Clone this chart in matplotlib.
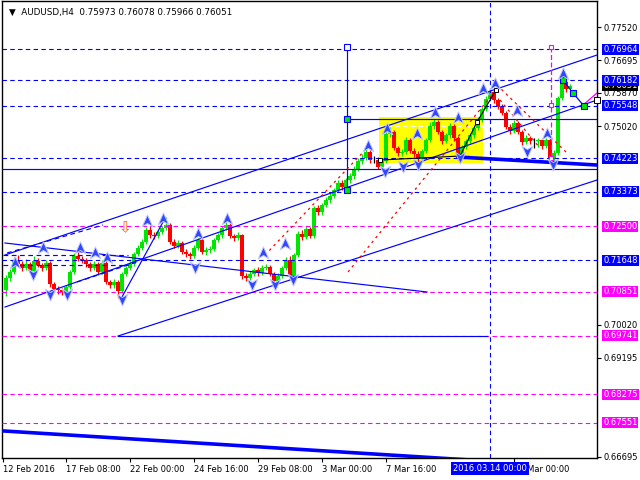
import numpy as np
import matplotlib.pyplot as plt
from matplotlib.path import Path
from matplotlib import transforms
from matplotlib.patches import Rectangle

plt.rcParams['font.family'] = 'DejaVu Sans'

# ---- AUDUSD H4 candles (bar index 0..141) ----
first_open = 0.7090
closes = [
    0.7120, 0.7135, 0.7165, 0.7155, 0.7145, 0.7155, 0.7138, 0.7163, 0.7153, 0.7145,
    0.7158, 0.7105, 0.7092, 0.7090, 0.7085, 0.7097, 0.7135, 0.7175, 0.7168, 0.7165,
    0.7155, 0.7145, 0.7155, 0.7135, 0.7158, 0.7110, 0.7102, 0.7110, 0.7087, 0.7130,
    0.7145, 0.7155, 0.7180, 0.7196, 0.7211, 0.7241, 0.7228, 0.7226, 0.7236, 0.7246,
    0.7254, 0.7211, 0.7201, 0.7208, 0.7186, 0.7180, 0.7175, 0.7196, 0.7216, 0.7186,
    0.7191, 0.7193, 0.7216, 0.7228, 0.7246, 0.7254, 0.7226, 0.7221, 0.7228, 0.7125,
    0.7120, 0.7130, 0.7140, 0.7133, 0.7145, 0.7148, 0.7130, 0.7112, 0.7125, 0.7145,
    0.7165, 0.7125, 0.7178, 0.7231, 0.7223, 0.7244, 0.7226, 0.7296, 0.7286, 0.7304,
    0.7317, 0.7327, 0.7342, 0.7360, 0.7349, 0.7367, 0.7377, 0.7395, 0.7415, 0.7423,
    0.7438, 0.7417, 0.7417, 0.7400, 0.7415, 0.7483, 0.7488, 0.7448, 0.7435, 0.7438,
    0.7468, 0.7440, 0.7433, 0.7420, 0.7440, 0.7468, 0.7503, 0.7513, 0.7488, 0.7465,
    0.7480, 0.7503, 0.7473, 0.7428, 0.7450, 0.7465, 0.7480, 0.7498, 0.7518, 0.7546,
    0.7571, 0.7589, 0.7569, 0.7551, 0.7536, 0.7501, 0.7491, 0.7511, 0.7488, 0.7463,
    0.7473, 0.7465, 0.7465, 0.7468, 0.7453, 0.7468, 0.7423, 0.7435, 0.7574, 0.7614,
    0.75973, 0.76051,
]
highs = [
    0.7128, 0.7142, 0.7172, 0.7178, 0.7162, 0.7168, 0.7160, 0.7176, 0.7170, 0.7158,
    0.7165, 0.7162, 0.7110, 0.7100, 0.7096, 0.7102, 0.7140, 0.7182, 0.7185, 0.7176,
    0.7170, 0.7160, 0.7162, 0.7160, 0.7165, 0.7162, 0.7116, 0.7118, 0.7115, 0.7135,
    0.7150, 0.7162, 0.7186, 0.7202, 0.7218, 0.7248, 0.7250, 0.7236, 0.7242, 0.7252,
    0.7275, 0.7258, 0.7218, 0.7215, 0.7212, 0.7192, 0.7186, 0.7202, 0.7222, 0.7220,
    0.7198, 0.7200, 0.7222, 0.7234, 0.7252, 0.7262, 0.7258, 0.7232, 0.7235, 0.7232,
    0.7132, 0.7138, 0.7146, 0.7148, 0.7152, 0.7156, 0.7152, 0.7135, 0.7132, 0.7150,
    0.7172, 0.7175, 0.7184, 0.7238, 0.7242, 0.7250, 0.7248, 0.7302, 0.7305, 0.7310,
    0.7324, 0.7334, 0.7348, 0.7366, 0.7368, 0.7373, 0.7384, 0.7402, 0.7422, 0.7432,
    0.7446, 0.7442, 0.7428, 0.7424, 0.7422, 0.7490, 0.7500, 0.7494, 0.7454, 0.7446,
    0.7475, 0.7472, 0.7448, 0.7440, 0.7446, 0.7474, 0.7512, 0.7520, 0.7518, 0.7492,
    0.7486, 0.7510, 0.7508, 0.7478, 0.7456, 0.7470, 0.7486, 0.7504, 0.7525, 0.7552,
    0.7578, 0.7600, 0.7594, 0.7575, 0.7558, 0.7540, 0.7508, 0.7518, 0.7516, 0.7494,
    0.7480, 0.7478, 0.7472, 0.7474, 0.7472, 0.7474, 0.7472, 0.7442, 0.7580, 0.7620,
    0.7618, 0.76078,
]
lows = [
    0.7075, 0.7112, 0.7130, 0.7150, 0.7138, 0.7140, 0.7132, 0.7135, 0.7148, 0.7138,
    0.7140, 0.7098, 0.7085, 0.7080, 0.7076, 0.7080, 0.7092, 0.7130, 0.7162, 0.7158,
    0.7148, 0.7138, 0.7140, 0.7128, 0.7130, 0.7105, 0.7095, 0.7096, 0.7070, 0.7082,
    0.7125, 0.7140, 0.7150, 0.7175, 0.7190, 0.7206, 0.7222, 0.7218, 0.7220, 0.7230,
    0.7240, 0.7205, 0.7195, 0.7196, 0.7180, 0.7172, 0.7168, 0.7170, 0.7190, 0.7180,
    0.7178, 0.7184, 0.7188, 0.7210, 0.7222, 0.7240, 0.7220, 0.7214, 0.7216, 0.7118,
    0.7112, 0.7115, 0.7124, 0.7126, 0.7128, 0.7140, 0.7124, 0.7105, 0.7106, 0.7120,
    0.7140, 0.7118, 0.7120, 0.7172, 0.7216, 0.7218, 0.7220, 0.7220, 0.7280, 0.7280,
    0.7298, 0.7310, 0.7322, 0.7336, 0.7342, 0.7344, 0.7360, 0.7370, 0.7390, 0.7408,
    0.7418, 0.7410, 0.7410, 0.7394, 0.7396, 0.7410, 0.7476, 0.7442, 0.7428, 0.7428,
    0.7432, 0.7434, 0.7426, 0.7410, 0.7415, 0.7436, 0.7462, 0.7496, 0.7482, 0.7458,
    0.7460, 0.7474, 0.7466, 0.7418, 0.7422, 0.7444, 0.7460, 0.7474, 0.7492, 0.7512,
    0.7540, 0.7565, 0.7562, 0.7545, 0.7530, 0.7495, 0.7484, 0.7486, 0.7482, 0.7456,
    0.7458, 0.7458, 0.7448, 0.7450, 0.7446, 0.7448, 0.7414, 0.7418, 0.7430, 0.7568,
    0.7590, 0.75966,
]

title = "\u25bc  AUDUSD,H4  0.75973 0.76078 0.75966 0.76051"

# horizontal levels
blue_levels = [0.76964, 0.76182, 0.75548, 0.74223, 0.73373, 0.71648]
pink_levels = [0.72500, 0.70851, 0.69741, 0.68275, 0.67551]
axis_ticks = [0.77520, 0.76695, 0.75870, 0.75020, 0.70020, 0.69195, 0.66695]
last_price = 0.76051

# time axis
date_ticks = [-0.75, 15, 31, 47, 63, 79, 95, 127]
date_labels = ['12 Feb 2016', '17 Feb 08:00', '22 Feb 00:00', '24 Feb 16:00',
               '29 Feb 08:00', '3 Mar 00:00', '7 Mar 16:00', '15 Mar 00:00']
cursor_bar = 121
cursor_label = '2016.03.14 00:00'

# trend lines (bar, price) pairs
channel_lines = [
    [(-0.25, 0.71780), (147.75, 0.76821)],
    [(-0.25, 0.70468), (147.75, 0.75687)],
    [(28, 0.69737), (147.75, 0.73670)],
    [(-0.25, 0.72082), (105.25, 0.70847)],
    [(29, 0.70721), (39.25, 0.72611)],
    [(-1, 0.73947), (147.75, 0.73947)],
    [(85.25, 0.75208), (147.75, 0.75208)],
    [(28, 0.69737), (120.25, 0.69737)],
    [(85.25, 0.73418), (85.25, 0.77023)],
]
dashed_lines = [
    [(0.25, 0.71830), (24.25, 0.72536)],
    [(17.75, 0.71099), (32.75, 0.71603)],
    [(-0.75, 0.71780), (30.5, 0.71780)],
    [(-0.75, 0.71527), (30.5, 0.71527)],
]
thick_lines = [
    [(113, 0.74250), (147.75, 0.74048)],
    [(-0.5, 0.67343), (116, 0.66612)],
]
red_dotted = [
    [(85.5, 0.71351), (122.5, 0.75939)],
    [(64.75, 0.71779), (91, 0.74553)],
    [(122.75, 0.76065), (140.25, 0.74351)],
    [(123.5, 0.75687), (133.5, 0.74477)],
]
wave_bars = [93.5, 113.5, 117.75, 122.5]
wave_prices = [0.74174, 0.74275, 0.75132, 0.75939]
proj_bars = [139.25, 141.75, 144.5]
proj_prices = [0.76191, 0.75864, 0.75536]
pink_proj = [(144.25, 0.75561), (147.75, 0.75864)]
end_square = (147.75, 0.75687)
pink_vert_bar = 136.25
pink_vert_prices = [0.77023, 0.75561, 0.74225]
blue_vert_bar = 85.25
blue_vert_prices = [0.77023, 0.75208, 0.73418]
box_bars = (93.25, 119.25)
box_prices = (0.74099, 0.75258)
box_mid = 0.75032

# fractal arrows
up_bars = [2.25, 9.25, 18.5, 22.25, 25.25, 35.25, 39.25, 48, 55.25, 64.25, 69.75,
           90.5, 95.25, 102.75, 107.25, 113, 119.25, 122.25, 127.75, 135.25, 139.25]
up_prices = [0.71578, 0.71956, 0.71956, 0.71830, 0.71704, 0.72637, 0.72687, 0.72309,
             0.72687, 0.71830, 0.72057, 0.74527, 0.74956, 0.74830, 0.75359, 0.75233,
             0.75964, 0.76090, 0.75410, 0.74830, 0.76342]
dn_bars = [6.75, 11, 15.25, 29, 47.25, 61.5, 67.25, 71.75, 94.75, 99.25, 103,
           113.5, 130.25, 136.75]
dn_prices = [0.71300, 0.70796, 0.70796, 0.70670, 0.71477, 0.71048, 0.71048, 0.71175,
             0.73897, 0.74023, 0.74074, 0.74250, 0.74401, 0.74074]

BLUE = '#0000ff'
PINK = '#ff00ff'
GREEN = '#00e600'
RED = '#ff0000'

fig = plt.figure(figsize=(6.4, 4.8), dpi=100)
ax = fig.add_axes([2 / 640, 22 / 480, 595 / 640, 457 / 480])
ax.set_xlim(-1, 147.75)
ax.set_ylim(0.66662, 0.78183)

# yellow rectangle behind candles
ax.add_patch(Rectangle((box_bars[0], box_prices[0]), box_bars[1] - box_bars[0],
                       box_prices[1] - box_prices[0], fc='#ffff00', ec='none', zorder=1))
ax.plot(box_bars, [box_mid, box_mid], color='white', lw=0.8, ls=(0, (4, 3)), zorder=1.5)

# candles
idx = np.arange(len(closes))
c = np.array(closes)
o = np.array([first_open] + closes[:-1])
h = np.array(highs)
l = np.array(lows)
col = np.where(c > o, GREEN, np.where(c < o, RED, 'black'))
ax.vlines(idx, l, h, colors=col, lw=0.9, zorder=3)
flat = np.abs(c - o) < 0.00008
ax.bar(idx, np.where(flat, 0.00008, c - o), bottom=np.where(flat, o - 0.00004, o),
       width=0.78, color=col, lw=0, zorder=3)

# levels
for p in blue_levels:
    ax.axhline(p, color=BLUE, lw=0.8, ls=(0, (4, 3)), zorder=4)
for p in pink_levels:
    ax.axhline(p, color=PINK, lw=0.8, ls=(0, (4, 3)), zorder=4)
ax.axvline(cursor_bar, color=BLUE, lw=0.8, ls=(0, (4, 3)), zorder=4)

for (a, b) in channel_lines:
    ax.plot([a[0], b[0]], [a[1], b[1]], color=BLUE, lw=0.85, zorder=4)
for (a, b) in dashed_lines:
    ax.plot([a[0], b[0]], [a[1], b[1]], color=BLUE, lw=0.85, ls=(0, (4, 3)), zorder=4)
for (a, b) in thick_lines:
    ax.plot([a[0], b[0]], [a[1], b[1]], color=BLUE, lw=2.6, zorder=4)
for (a, b) in red_dotted:
    ax.plot([a[0], b[0]], [a[1], b[1]], color=RED, lw=0.9, ls=(0, (2, 3)), zorder=4)

ax.plot(wave_bars, wave_prices, color='black', lw=0.8, zorder=4)
ax.plot(wave_bars, wave_prices, ls='none', marker='s', ms=3.5, mfc='white', mec='black',
        mew=0.7, zorder=5)
ax.plot(proj_bars, proj_prices, color=BLUE, lw=0.9, marker='s', ms=4, mfc='#00e600',
        mec=BLUE, mew=0.8, zorder=5)
ax.plot([pink_proj[0][0], pink_proj[1][0]], [pink_proj[0][1], pink_proj[1][1]],
        color=PINK, lw=0.9, zorder=4)
ax.plot([end_square[0]], [end_square[1]], ls='none', marker='s', ms=4, mfc='white',
        mec='black', mew=0.7, zorder=5, clip_on=False)
ax.plot([pink_vert_bar] * 2, [pink_vert_prices[0], pink_vert_prices[-1]], color=PINK,
        lw=0.9, ls=(0, (4, 2)), zorder=4)
ax.plot([pink_vert_bar] * 3, pink_vert_prices, ls='none', marker='s', ms=3.5,
        mfc='white', mec=PINK, mew=0.8, zorder=5)
ax.plot([blue_vert_bar], [blue_vert_prices[0]], ls='none', marker='s', ms=4,
        mfc='white', mec=BLUE, mew=0.8, zorder=5)
ax.plot([blue_vert_bar] * 2, blue_vert_prices[1:], ls='none', marker='s', ms=4,
        mfc='#00e600', mec=BLUE, mew=0.8, zorder=5)

# fractal arrow markers
up_path = Path([(0, 1), (0.8, -0.8), (0, -0.3), (-0.8, -0.8), (0, 1)],
               [Path.MOVETO, Path.LINETO, Path.LINETO, Path.LINETO, Path.CLOSEPOLY])
dn_path = Path([(0, -1), (0.8, 0.8), (0, 0.3), (-0.8, 0.8), (0, -1)],
               [Path.MOVETO, Path.LINETO, Path.LINETO, Path.LINETO, Path.CLOSEPOLY])
ax.plot(up_bars, up_prices, ls='none', marker=up_path, ms=9.5, mfc='#3046ff',
        mec='#c4caff', mew=0.7, zorder=6)
ax.plot(dn_bars, dn_prices, ls='none', marker=dn_path, ms=9.5, mfc='#3046ff',
        mec='#c4caff', mew=0.7, zorder=6)
ax.text(29.75, 0.72460, '\u21e9', color='#ff5a1e', fontsize=11, ha='center', va='center',
        zorder=6)

# axes styling
for s in ax.spines.values():
    s.set_color('black')
    s.set_linewidth(1.0)
ax.yaxis.tick_right()
ax.set_yticks(axis_ticks)
ax.set_yticklabels(['%.5f' % t for t in axis_ticks])
ax.tick_params(axis='y', labelsize=6, length=3, pad=2, width=0.8)
ax.set_xticks(date_ticks)
ax.set_xticklabels(date_labels)
ax.tick_params(axis='x', labelsize=6, length=3, pad=2, width=0.8)
for lbl in ax.get_xticklabels():
    lbl.set_ha('left')

ax.text(0.012, 0.985, title, transform=ax.transAxes, fontsize=6.3, va='top', ha='left')

# price tags on the right (current price tag sits underneath the level tags)
tag_tr = transforms.blended_transform_factory(fig.transFigure, ax.transData)
def price_tag(p, fc, z):
    fig.text(603 / 640, p, '%.5f' % p, transform=tag_tr, fontsize=6, color='white',
             ha='left', va='center', zorder=z,
             bbox=dict(boxstyle='square,pad=0.12', fc=fc, ec='none'))

price_tag(last_price, 'black', 3)
for p in blue_levels:
    price_tag(p, BLUE, 4)
for p in pink_levels:
    price_tag(p, PINK, 4)

cur_tr = transforms.blended_transform_factory(ax.transData, ax.transAxes)
ax.text(cursor_bar, -0.023, cursor_label, transform=cur_tr, fontsize=6, color='white',
        ha='center', va='center', clip_on=False, zorder=10,
        bbox=dict(boxstyle='square,pad=0.2', fc=BLUE, ec='none'))

fig.savefig('out.png', dpi=100)
